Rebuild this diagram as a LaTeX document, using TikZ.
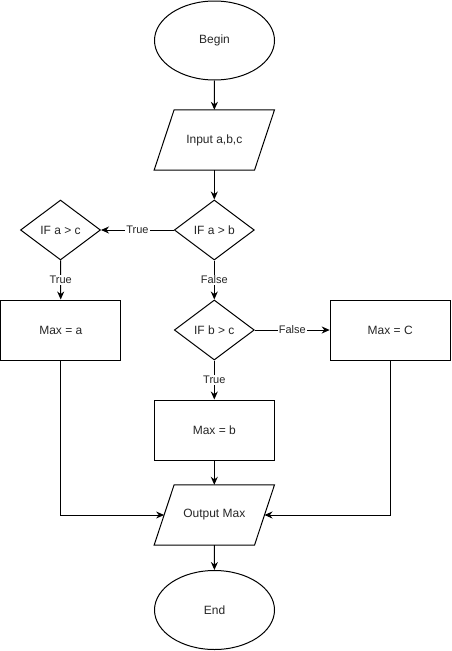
\documentclass[tikz,border=0pt]{standalone}
\usepackage{fontspec}
\setmainfont{Liberation Sans}
\usetikzlibrary{shapes.geometric,arrows.meta}
\begin{document}
\begin{tikzpicture}[x=1pt,y=-1pt,
  every node/.style={font=\fontsize{12}{14}\selectfont, text=black!85},
  term/.style={ellipse,draw,line width=1pt,minimum width=120pt,minimum height=79pt,inner sep=0pt},
  iobox/.style={rectangle,minimum width=100pt,minimum height=60pt,inner sep=0pt},
  procbox/.style={rectangle,draw,line width=1pt,minimum width=120pt,minimum height=60pt,inner sep=0pt},
  decbox/.style={diamond,draw,line width=1pt,minimum width=80pt,minimum height=60pt,inner sep=0pt,aspect=1.333},
  conn/.style={line width=1pt,-{Stealth[length=8pt,width=7pt]}},
  elab/.style={fill=white,inner sep=1pt,font=\fontsize{11}{13}\selectfont},
]
\useasboundingbox (0,0) rectangle (451,651);
\node[term] (begin) at (214.5,40.5) {Begin};
\node[iobox] (input) at (214.3,140) {Input a,b,c};
\draw[line width=1pt] ([xshift=10pt]input.north west) -- ([xshift=10pt]input.north east)
  -- ([xshift=-10pt]input.south east) -- ([xshift=-10pt]input.south west) -- cycle;
\node[decbox,label={center:IF a > b}] (ab) at (214.3,230) {};
\node[decbox,label={center:IF a > c}] (ac) at (60.5,230) {};
\node[procbox] (maxa) at (60.8,330) {Max = a};
\node[decbox,label={center:IF b > c}] (bc) at (214.3,330) {};
\node[procbox] (maxc) at (390.2,330) {Max = C};
\node[procbox] (maxb) at (214.3,430) {Max = b};
\node[iobox] (out) at (214.3,515) {Output Max};
\draw[line width=1pt] ([xshift=10pt]out.north west) -- ([xshift=10pt]out.north east)
  -- ([xshift=-10pt]out.south east) -- ([xshift=-10pt]out.south west) -- cycle;
\node[term] (end) at (214.5,610) {End};

\draw[conn] (begin) -- (input);
\draw[conn] (input) -- (ab);
\draw[conn] (ab) -- node[elab] (l1) {True} (ac);
\draw[conn] (ac) -- node[elab] (l2) {True} (maxa);
\draw[conn] (ab) -- node[elab] (l3) {False} (bc);
\draw[conn] (bc) -- node[elab] (l4) {False} (maxc);
\draw[conn] (bc) -- node[elab] (l5) {True} (maxb);
\draw[conn] (maxb) -- (out);
\draw[conn] (maxa) |- (out.west);
\draw[conn] (maxc) |- (out.east);
\draw[conn] (out) -- (end);
\end{tikzpicture}
\end{document}
